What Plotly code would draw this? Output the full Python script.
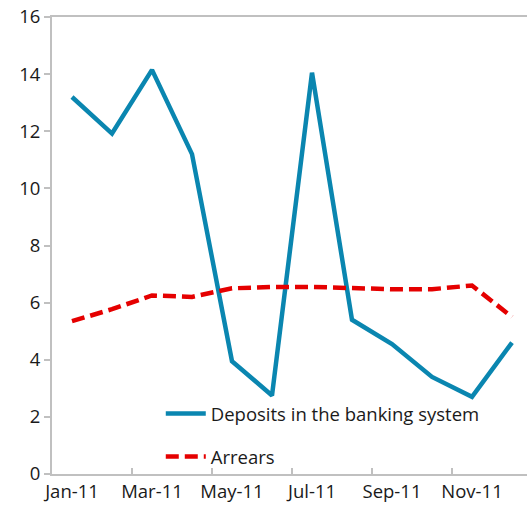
import plotly.graph_objects as go

# Données mensuelles 2011
mois = ["Jan-11", "Feb-11", "Mar-11", "Apr-11", "May-11", "Jun-11",
        "Jul-11", "Aug-11", "Sep-11", "Oct-11", "Nov-11", "Dec-11"]
depots = [13.2, 11.92, 14.15, 11.2, 3.95, 2.75, 14.05, 5.4, 4.55, 3.4, 2.7, 4.6]
arrieres = [5.35, 5.77, 6.25, 6.2, 6.5, 6.55, 6.55, 6.5, 6.47, 6.47, 6.6, 5.5]
y_ticks = [0, 2, 4, 6, 8, 10, 12, 14, 16]

x = list(range(len(mois)))
police = "Open Sans"
gris = "#c0c0c0"

fig = go.Figure()

fig.add_trace(go.Scatter(
    x=x, y=depots, mode="lines",
    name="Deposits in the banking system",
    legendgroup="a",
    line=dict(color="#0a86b0", width=4.5)
))

fig.add_trace(go.Scatter(
    x=x, y=arrieres, mode="lines",
    name="Arrears",
    legendgroup="b",
    line=dict(color="#e50000", width=4.5, dash="13px,6px")
))

fig.update_layout(
    width=527, height=514,
    margin=dict(l=52, r=0, t=17, b=40),
    plot_bgcolor="white",
    paper_bgcolor="white",
    font=dict(family=police, size=18.5, color="#1a1a1a"),
    showlegend=True,
    legend=dict(
        x=0.229, y=0.173, xanchor="left", yanchor="top",
        bgcolor="rgba(0,0,0,0)",
        font=dict(size=18.5),
        tracegroupgap=16,
        itemwidth=40,
    ),
    xaxis=dict(
        range=[-0.5, 11.375],
        tickvals=x[::2],
        ticktext=mois[::2],
        ticks="",
        showgrid=False,
        zeroline=False,
        showline=True, linecolor=gris, linewidth=2,
        mirror=True,
        minor=dict(tickvals=[1.5, 3.5, 5.5, 7.5, 9.5], ticks="inside",
                   ticklen=6, tickwidth=2, tickcolor=gris),
    ),
    yaxis=dict(
        range=[0, 16],
        tickvals=y_ticks,
        ticks="outside", ticklen=6, tickwidth=2, tickcolor=gris,
        showgrid=False,
        zeroline=False,
        showline=True, linecolor=gris, linewidth=2,
    ),
)

# retirer la marge par défaut du navigateur autour de la figure
fig.write_html("out.html", config={"displayModeBar": False},
               post_script="document.body.style.margin = '0';")
